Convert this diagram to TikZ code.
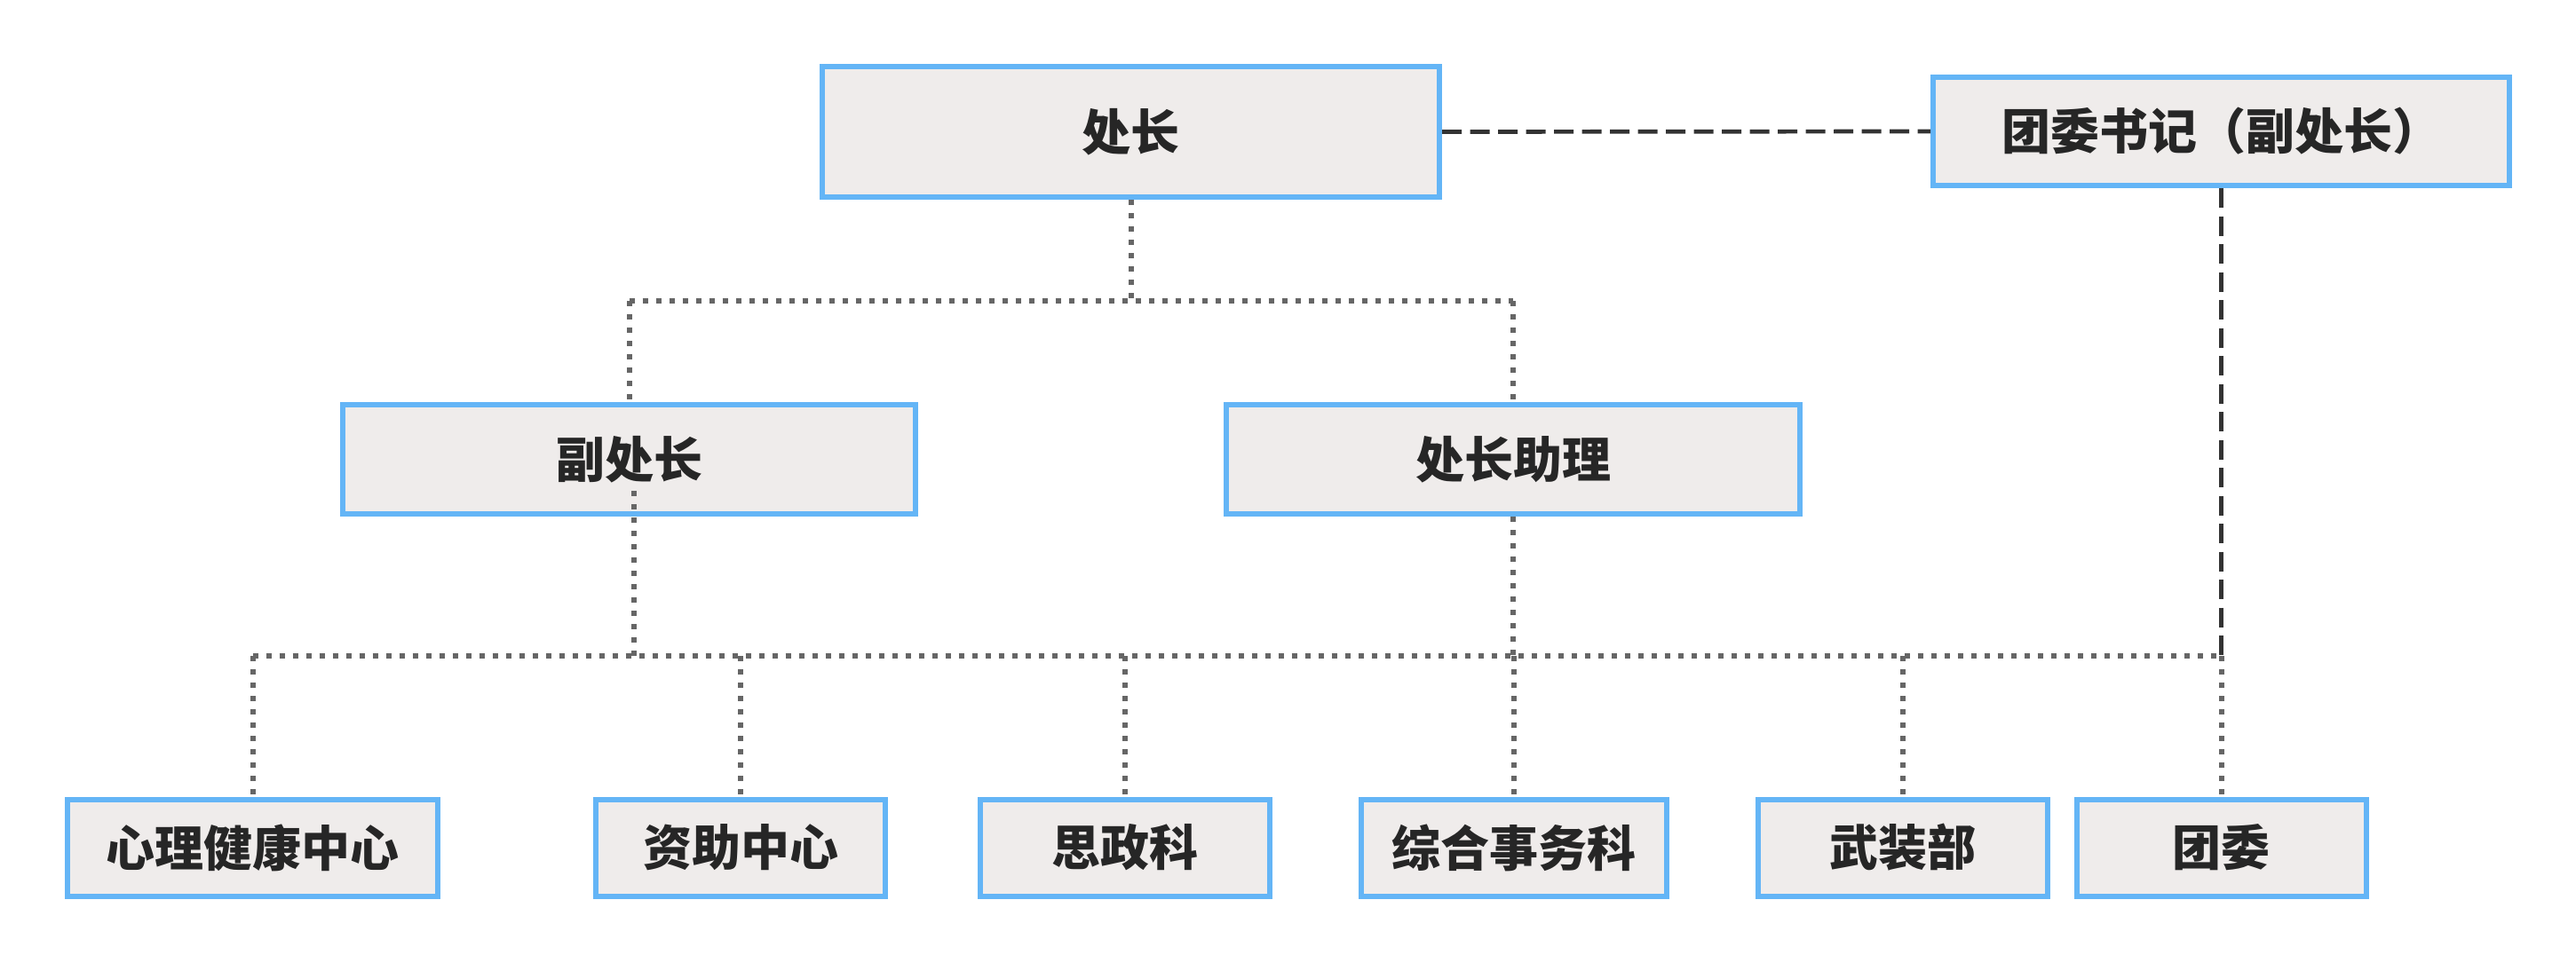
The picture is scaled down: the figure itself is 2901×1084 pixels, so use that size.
\documentclass[tikz,border=0pt]{standalone}
\usepackage{fontspec}
\newfontfamily\cjk{Noto Sans CJK SC}
\definecolor{boxfill}{HTML}{EFECEB}
\definecolor{boxline}{HTML}{64B5F6}
\definecolor{txt}{HTML}{262626}
\definecolor{dotc}{HTML}{666666}
\definecolor{dashc}{HTML}{333333}
\begin{document}
\begin{tikzpicture}[x=1pt,y=-1pt,
  orgbox/.style={draw=boxline, fill=boxfill, line width=6pt, inner sep=0pt,
    text=txt, font=\cjk\bfseries\fontsize{55}{60}\selectfont},
  dotline/.style={draw=dotc, line width=6pt, dash pattern=on 6pt off 9pt},
  dashline/.style={draw=dashc, line width=4.7pt, dash pattern=on 22pt off 9.5pt}]
\useasboundingbox (0,0) rectangle (2901,1084);
% top level
\node[orgbox, minimum width=695pt, minimum height=147pt] (chu) at (1273.5,148.5) {处长};
\node[orgbox, minimum width=649pt, minimum height=122pt] (twsec) at (2501.5,148) {团委书记（副处长）};
% second level
\node[orgbox, minimum width=645pt, minimum height=123pt] (fu) at (708.5,517.5) {副处长};
\node[orgbox, minimum width=646pt, minimum height=123pt] (zl) at (1704,517.5) {处长助理};
% bottom level
\node[orgbox, minimum width=417pt, minimum height=109pt] (xl) at (284.5,955) {心理健康中心};
\node[orgbox, minimum width=326pt, minimum height=109pt] (zz) at (834,955) {资助中心};
\node[orgbox, minimum width=326pt, minimum height=109pt] (sz) at (1267,955) {思政科};
\node[orgbox, minimum width=344pt, minimum height=109pt] (zh) at (1705,955) {综合事务科};
\node[orgbox, minimum width=326pt, minimum height=109pt] (wz) at (2143,955) {武装部};
\node[orgbox, minimum width=326pt, minimum height=109pt] (tw) at (2501.5,955) {团委};
% helper coordinates
\coordinate (m1) at (1273.5,339);
\coordinate (bus) at (0,739);
\coordinate (fustart) at (714,553);
% connectors
\draw[dashline] (chu.east) -- (twsec.west);
\draw[dashline] (twsec.south) -- (twsec.south |- bus);
\draw[dotline] (twsec.south |- bus) -- (tw.north);
\draw[dotline] (chu.south) -- (m1);
\draw[dotline] (fu.north |- m1) -- (zl.north |- m1);
\draw[dotline] (fu.north |- m1) -- (fu.north);
\draw[dotline] (zl.north |- m1) -- (zl.north);
\draw[dotline] (fustart) -- (fustart |- bus);
\draw[dotline] (zl.south) -- (zl.south |- bus);
\draw[dotline] (xl.north |- bus) -- (tw.north |- bus);
\draw[dotline] (xl.north |- bus) -- (xl.north);
\draw[dotline] (zz.north |- bus) -- (zz.north);
\draw[dotline] (sz.north |- bus) -- (sz.north);
\draw[dotline] (zh.north |- bus) -- (zh.north);
\draw[dotline] (wz.north |- bus) -- (wz.north);
\end{tikzpicture}
\end{document}
